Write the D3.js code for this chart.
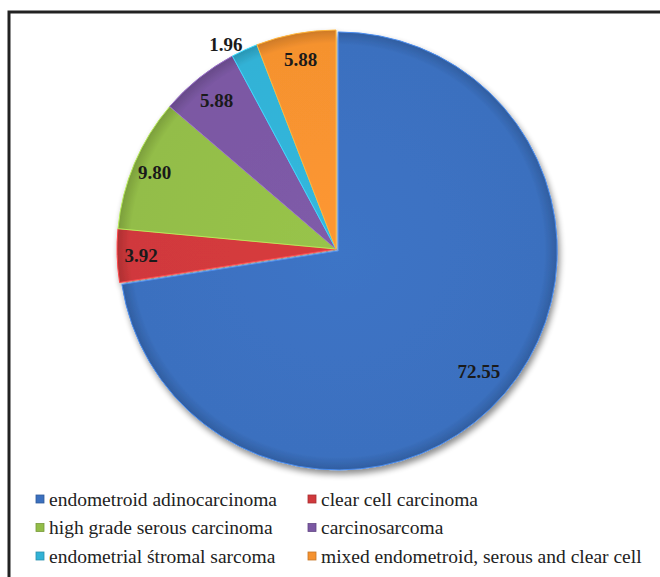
<!DOCTYPE html>
<html>
<head>
<meta charset="utf-8">
<script src="https://cdn.jsdelivr.net/npm/d3@7"></script>
<style>
  body { margin: 0; background: #fff; }
  svg { display: block; }
  text { font-family: "Liberation Serif", "Times New Roman", Times, serif; }
</style>
</head>
<body>
<svg id="chart" width="660" height="577"></svg>
<script>
const categories = [
  'endometroid adinocarcinoma',
  'clear cell carcinoma',
  'high grade serous carcinoma',
  'carcinosarcoma',
  'endometrial śtromal sarcoma',
  'mixed endometroid, serous and clear cell'
]
const values = [72.55, 3.92, 9.80, 5.88, 1.96, 5.88]
const labels = ['72.55', '3.92', '9.80', '5.88', '1.96', '5.88']
const colors = ['#3b70bf', '#d0393c', '#93bd48', '#7b58a3', '#32b2d6', '#f5922f']

const svg = d3.select('#chart')
const cx = 336
const cy = 249
const radius = 219

// frame (only left and top edges are visible)
svg.append('path')
  .attr('d', 'M9,600 L9,12 L680,12')
  .attr('fill', 'none')
  .attr('stroke', '#222')
  .attr('stroke-width', 3)

const defs = svg.append('defs')
const shadow = defs.append('filter')
  .attr('id', 'shadow')
  .attr('x', '-20%').attr('y', '-20%')
  .attr('width', '140%').attr('height', '140%')
shadow.append('feGaussianBlur').attr('in', 'SourceAlpha').attr('stdDeviation', 3)
shadow.append('feOffset').attr('dx', 2).attr('dy', 4).attr('result', 'blur')
shadow.append('feComponentTransfer').append('feFuncA').attr('type', 'linear').attr('slope', 0.45)
const merge = shadow.append('feMerge')
merge.append('feMergeNode')
merge.append('feMergeNode').attr('in', 'SourceGraphic')

colors.forEach((c, i) => {
  const g = defs.append('radialGradient')
    .attr('id', 'grad' + i)
    .attr('gradientUnits', 'userSpaceOnUse')
    .attr('cx', 0).attr('cy', 0).attr('r', radius)
  g.append('stop').attr('offset', '0%').attr('stop-color', d3.color(c).brighter(0.1))
  g.append('stop').attr('offset', '94%').attr('stop-color', c)
  g.append('stop').attr('offset', '100%').attr('stop-color', d3.color(c).darker(0.5))
})

const pie = d3.pie().sort(null).value(d => d)
const arcs = pie(values)
const arc = d3.arc().innerRadius(0).outerRadius(radius)

const g = svg.append('g')
  .attr('transform', `translate(${cx},${cy})`)
  .attr('filter', 'url(#shadow)')

g.selectAll('path.slice')
  .data(arcs)
  .join('path')
  .attr('class', 'slice')
  .attr('transform', (d, i) => {
    if (i !== 0) return null
    const a = (d.startAngle + d.endAngle) / 2
    return `translate(${Math.sin(a) * 3},${-Math.cos(a) * 3})`
  })
  .attr('d', arc)
  .attr('fill', (d, i) => `url(#grad${i})`)
  .attr('stroke', (d, i) => d3.color(colors[i]).brighter(0.6))
  .attr('stroke-width', 1)
  .attr('stroke-linejoin', 'round')

// data labels (the small cyan slice gets its label outside, nudged left)
const labelRadius = [0.86, 0.89, 0.9, 0.87, 1.03, 0.88]
const labelShift = [0, 0, 0, 0, -16, 0]
svg.append('g')
  .attr('transform', `translate(${cx},${cy})`)
  .selectAll('text')
  .data(arcs)
  .join('text')
  .attr('x', (d, i) => Math.sin((d.startAngle + d.endAngle) / 2) * radius * labelRadius[i] + labelShift[i])
  .attr('y', (d, i) => -Math.cos((d.startAngle + d.endAngle) / 2) * radius * labelRadius[i])
  .attr('dy', '0.35em')
  .attr('text-anchor', 'middle')
  .style('font-size', '19px')
  .style('font-weight', 'bold')
  .attr('fill', '#1a1a1a')
  .text((d, i) => labels[i])

// legend
const legend = svg.append('g')
  .selectAll('g')
  .data(categories)
  .join('g')
  .attr('transform', (d, i) => `translate(${i % 2 === 0 ? 36 : 308},${499 + Math.floor(i / 2) * 28.5})`)

legend.append('rect')
  .attr('x', 0).attr('y', -4)
  .attr('width', 8).attr('height', 8)
  .attr('fill', (d, i) => colors[i])
  .attr('stroke', (d, i) => d3.color(colors[i]).darker(0.6))
  .attr('stroke-width', 0.8)

legend.append('text')
  .attr('x', 13)
  .attr('y', 0)
  .attr('dy', '0.35em')
  .style('font-size', '19.5px')
  .attr('fill', '#222')
  .text(d => d)
</script>
</body>
</html>
